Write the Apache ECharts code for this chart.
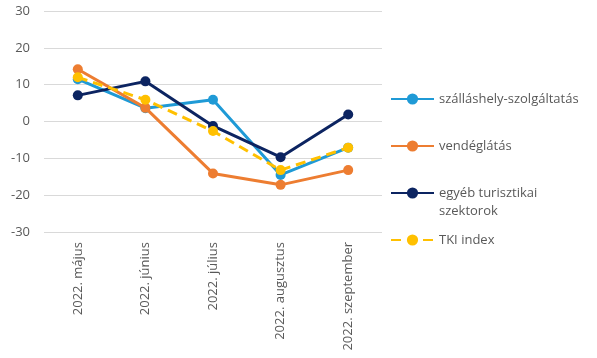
<!DOCTYPE html>
<html>
<head>
<meta charset="utf-8">
<script src="https://cdn.jsdelivr.net/npm/echarts@6/dist/echarts.min.js"></script>
<style>
html,body{margin:0;padding:0;background:#fff;}
#chart{width:597px;height:358px;}
</style>
</head>
<body>
<div id="chart"></div>
<script>
const categories = ['2022. május', '2022. június', '2022. július', '2022. augusztus', '2022. szeptember'];
const szallas = [11.5, 3.6, 5.9, -14.5, -7.1];
const vendeglatas = [14.2, 3.7, -14.1, -17.2, -13.2];
const egyeb = [7.1, 10.9, -1.2, -9.7, 1.9];
const tki = [12.0, 5.9, -2.6, -13.2, -7.1];
const yTicks = { min: -30, max: 30, interval: 10 };

const names = ['szálláshely-szolgáltatás', 'vendéglátás', 'egyéb turisztikai szektorok', 'TKI index'];
const colors = ['#1f9ad6', '#ed7d31', '#0c2461', '#ffc000'];
const values = [szallas, vendeglatas, egyeb, tki];

const font = '"Open Sans", sans-serif';
const legendTops = [90, 137, 166, 231];

const chart = echarts.init(document.getElementById('chart'), null, { renderer: 'canvas' });
chart.setOption({
  animation: false,
  backgroundColor: '#ffffff',
  grid: { left: 44, right: 215, top: 11, bottom: 126 },
  legend: names.map((n, i) => ({
    data: [n],
    left: 390,
    top: legendTops[i],
    padding: 0,
    itemWidth: 43,
    itemHeight: 14,
    formatter: function (name) {
      return name === 'egyéb turisztikai szektorok' ? '\negyéb turisztikai\nszektorok' : name;
    },
    textStyle: { color: '#595959', fontSize: 13, fontFamily: font, lineHeight: 18 }
  })),
  xAxis: {
    type: 'category',
    data: categories,
    boundaryGap: true,
    axisLine: { show: false },
    axisTick: { show: false },
    axisLabel: { rotate: 90, color: '#595959', fontSize: 13, fontFamily: font, margin: 10 }
  },
  yAxis: {
    type: 'value',
    min: yTicks.min,
    max: yTicks.max,
    interval: yTicks.interval,
    axisLine: { show: false },
    axisTick: { show: false },
    axisLabel: { color: '#595959', fontSize: 13, fontFamily: font, margin: 14 },
    splitLine: { lineStyle: { color: '#d9d9d9', width: 1 } }
  },
  series: names.map((n, i) => ({
    name: n,
    type: 'line',
    data: values[i],
    color: colors[i],
    symbol: 'circle',
    symbolSize: 10,
    lineStyle: { width: 3, color: colors[i], type: i === 3 ? [10, 6] : 'solid' },
    itemStyle: { color: colors[i] },
    z: 2 + i
  }))
});
</script>
</body>
</html>
